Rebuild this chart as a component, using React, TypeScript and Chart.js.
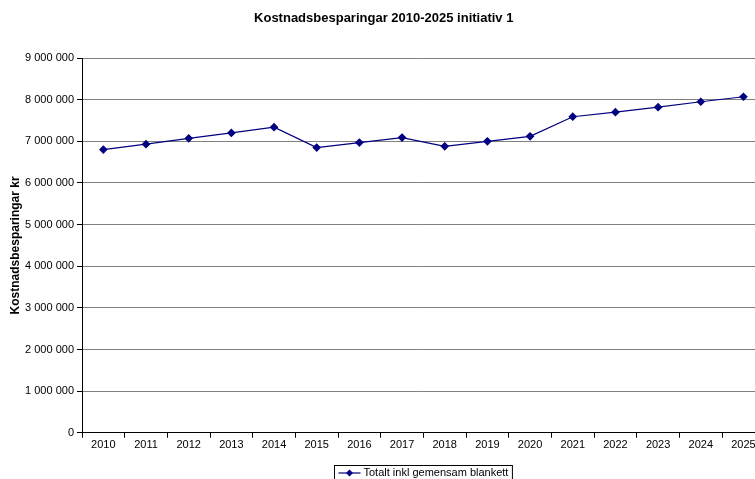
import React, { useEffect, useRef } from "react";
import { Chart, registerables } from "chart.js";

Chart.register(...registerables);

const chartTitle = "Kostnadsbesparingar 2010-2025 initiativ 1";
const yAxisTitle = "Kostnadsbesparingar kr";
const seriesLabel = "Totalt inkl gemensam blankett";
const years = [
  "2010", "2011", "2012", "2013", "2014", "2015", "2016", "2017",
  "2018", "2019", "2020", "2021", "2022", "2023", "2024", "2025",
];
const totals = [
  6800000, 6930000, 7070000, 7200000, 7340000, 6850000, 6970000, 7090000,
  6880000, 7000000, 7120000, 7590000, 7700000, 7820000, 7950000, 8070000,
];
const yMin = 0;
const yMax = 9000000;
const yStep = 1000000;

const FONT = "'Liberation Sans', Arial, sans-serif";
const NAVY = "#000080";

const fmt = (v: number) =>
  Math.round(v).toString().replace(/\B(?=(\d{3})+(?!\d))/g, " ");

const boxedLegend = {
  id: "boxedLegend",
  afterDraw(chart: any) {
    const { ctx, chartArea } = chart;
    const ds = chart.data.datasets[0];
    ctx.save();
    ctx.font = `11px ${FONT}`;
    const tw = ctx.measureText(ds.label).width;
    const sampleW = 22;
    const w = 4 + sampleW + 3 + tw + 4;
    const h = 19;
    const cx = (chartArea.left + chartArea.right) / 2;
    const left = Math.round(cx - w / 2) + 0.5;
    const top = 465.5;
    ctx.strokeStyle = "#000";
    ctx.lineWidth = 1;
    ctx.strokeRect(left, top, w, h);
    const my = top + 7.5;
    ctx.strokeStyle = ds.borderColor;
    ctx.lineWidth = 1.2;
    ctx.beginPath();
    ctx.moveTo(left + 4, my);
    ctx.lineTo(left + 4 + sampleW, my);
    ctx.stroke();
    const dx = left + 4 + sampleW / 2;
    const r = 3.5;
    ctx.fillStyle = ds.pointBackgroundColor;
    ctx.beginPath();
    ctx.moveTo(dx, my - r);
    ctx.lineTo(dx + r, my);
    ctx.lineTo(dx, my + r);
    ctx.lineTo(dx - r, my);
    ctx.closePath();
    ctx.fill();
    ctx.fillStyle = "#000";
    ctx.textBaseline = "middle";
    ctx.textAlign = "left";
    ctx.fillText(ds.label, left + 4 + sampleW + 3, my);
    ctx.restore();
  },
};

export default function App() {
  const ref = useRef<HTMLCanvasElement | null>(null);
  useEffect(() => {
    if (!ref.current) return;
    Chart.defaults.font.family = FONT;
    Chart.defaults.color = "#000";
    const chart = new Chart(ref.current, {
      type: "line",
      data: {
        labels: years,
        datasets: [
          {
            label: seriesLabel,
            data: totals,
            borderColor: NAVY,
            backgroundColor: NAVY,
            pointBackgroundColor: NAVY,
            pointBorderColor: NAVY,
            pointStyle: "rectRot",
            pointRadius: 3.5,
            borderWidth: 1.2,
            tension: 0,
          },
        ],
      },
      options: {
        responsive: false,
        animation: false,
        devicePixelRatio: 1,
        layout: { padding: { left: 0, right: 2.5, top: 0, bottom: 26 } },
        plugins: {
          legend: { display: false },
          tooltip: { enabled: false },
          title: {
            display: true,
            text: chartTitle,
            font: { size: 13, weight: "bold", family: FONT },
            color: "#000",
            padding: { top: 11, bottom: 31.4 },
          },
        },
        scales: {
          x: {
            offset: true,
            grid: {
              offset: true,
              drawOnChartArea: false,
              drawTicks: true,
              tickLength: 5,
              tickColor: "#000",
            },
            border: { color: "#000", width: 1 },
            ticks: { font: { size: 11 }, color: "#000", padding: 1, maxRotation: 0, autoSkip: false },
          },
          y: {
            min: yMin,
            max: yMax,
            grid: { color: "#808080", tickColor: "#000", tickLength: 5, lineWidth: 1 },
            border: { color: "#000", width: 1 },
            ticks: {
              stepSize: yStep,
              font: { size: 11 },
              color: "#000",
              padding: 3,
              callback: (v: any) => fmt(Number(v)),
            },
            title: {
              display: true,
              text: yAxisTitle,
              font: { size: 12, weight: "bold", family: FONT },
              color: "#000",
              padding: { top: 8, bottom: 0 },
            },
            afterFit: (scale: any) => {
              scale.width = 82;
            },
          },
        },
      },
      plugins: [boxedLegend],
    });
    return () => chart.destroy();
  }, []);
  return (
    <div
      style={{
        position: "fixed",
        left: 0,
        top: 0,
        width: 755,
        height: 479,
        overflow: "hidden",
        background: "#fff",
      }}
    >
      <canvas ref={ref} width={770} height={479} style={{ display: "block" }} />
    </div>
  );
}
